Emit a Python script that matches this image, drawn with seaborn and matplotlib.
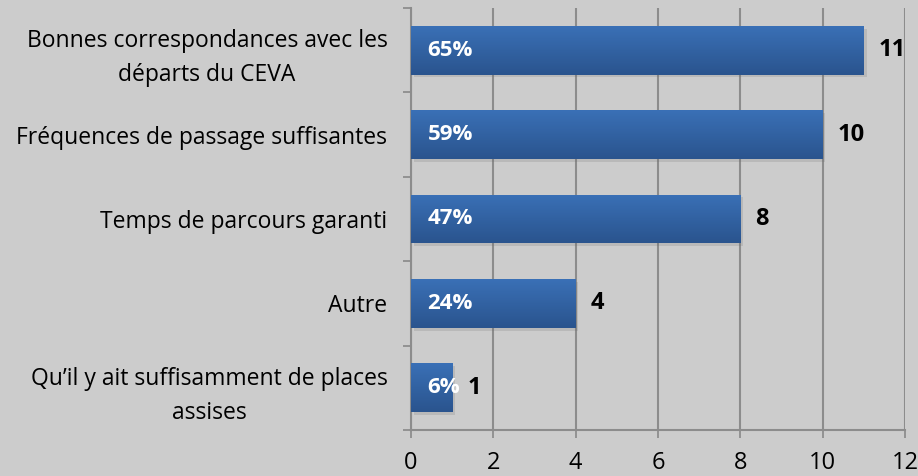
import matplotlib
matplotlib.use("Agg")
import matplotlib.pyplot as plt
import matplotlib.patheffects as pe
import numpy as np
import seaborn as sns
import pandas as pd
from matplotlib.colors import LinearSegmentedColormap

categories = [
    "Bonnes correspondances avec les\ndéparts du CEVA",
    "Fréquences de passage suffisantes",
    "Temps de parcours garanti",
    "Autre",
    "Qu\u2019il y ait suffisamment de places\nassises",
]
counts = [11, 10, 8, 4, 1]
percents = ["65%", "59%", "47%", "24%", "6%"]
xticks = [0, 2, 4, 6, 8, 10, 12]

sns.set_theme(style="white")
plt.rcParams["font.family"] = ["Open Sans", "DejaVu Sans"]
plt.rcParams["text.color"] = "black"
plt.rcParams["xtick.color"] = "black"
plt.rcParams["ytick.color"] = "black"

bg = "#cccccc"
fig = plt.figure(figsize=(9.18, 4.76), dpi=100, facecolor=bg)
ax = fig.add_axes([411/918, 1-430/476, (905-411)/918, (430-8)/476])
ax.set_facecolor(bg)

df = pd.DataFrame({"cat": categories, "n": counts})
sns.barplot(data=df, x="n", y="cat", orient="h", color="#3265a8",
            saturation=1, width=0.58, ax=ax, zorder=3, linewidth=0,
            edgecolor="none")

# vertical gradient + soft shadow on each bar
grad = np.linspace(0, 1, 64).reshape(-1, 1)
cmap = LinearSegmentedColormap.from_list("bar", ["#3a70b6", "#2a548e"])
for p in ax.patches:
    x0, y0 = p.get_x(), p.get_y()
    w, h = p.get_width(), p.get_height()
    p.set_path_effects([pe.SimplePatchShadow(offset=(2, -2), shadow_rgbFace="#666666", alpha=0.18), pe.Normal()])
    im = ax.imshow(grad, cmap=cmap, aspect="auto", extent=(x0, x0 + w, y0 + h, y0),
                   zorder=3.5, interpolation="bilinear")
    im.set_clip_path(p)
ax.set_xlim(0, 12)
ax.set_ylim(4.5, -0.5)

ax.set_xticks(xticks)
ax.set_xticklabels([str(t) for t in xticks], fontsize=17)
ax.set_yticks([i - 0.5 for i in range(6)], minor=False)
ax.set_yticklabels([])
ax.set_yticks(range(5), minor=True)
ax.set_yticklabels(categories, minor=True, fontsize=16.5, ha="right",
                   multialignment="center", linespacing=1.55)
ax.tick_params(axis="y", which="minor", length=0, pad=17)
ax.tick_params(axis="y", which="major", length=6, color="#888888", width=1.2, direction="out", left=True)
ax.tick_params(axis="x", length=6, color="#888888", width=1.2, direction="out", bottom=True, pad=9)
ax.set_xlabel("")
ax.set_ylabel("")
ax.xaxis.grid(True, color="#8c8c8c", linewidth=1.5, zorder=0)
ax.set_axisbelow(True)
for s in ["top", "right"]:
    ax.spines[s].set_visible(False)
for s in ["left", "bottom"]:
    ax.spines[s].set_color("#8c8c8c")
    ax.spines[s].set_linewidth(1.5)

for i, (c, p) in enumerate(zip(counts, percents)):
    ax.text(0.4, i, p, color="white", fontweight="bold", fontsize=16,
            va="center", ha="left", zorder=5)
    ax.text(c + 0.37, i, str(c), color="black", fontweight="bold", fontsize=17,
            va="center", ha="left", zorder=5)

fig.savefig("out.png", dpi=100, facecolor=bg)
